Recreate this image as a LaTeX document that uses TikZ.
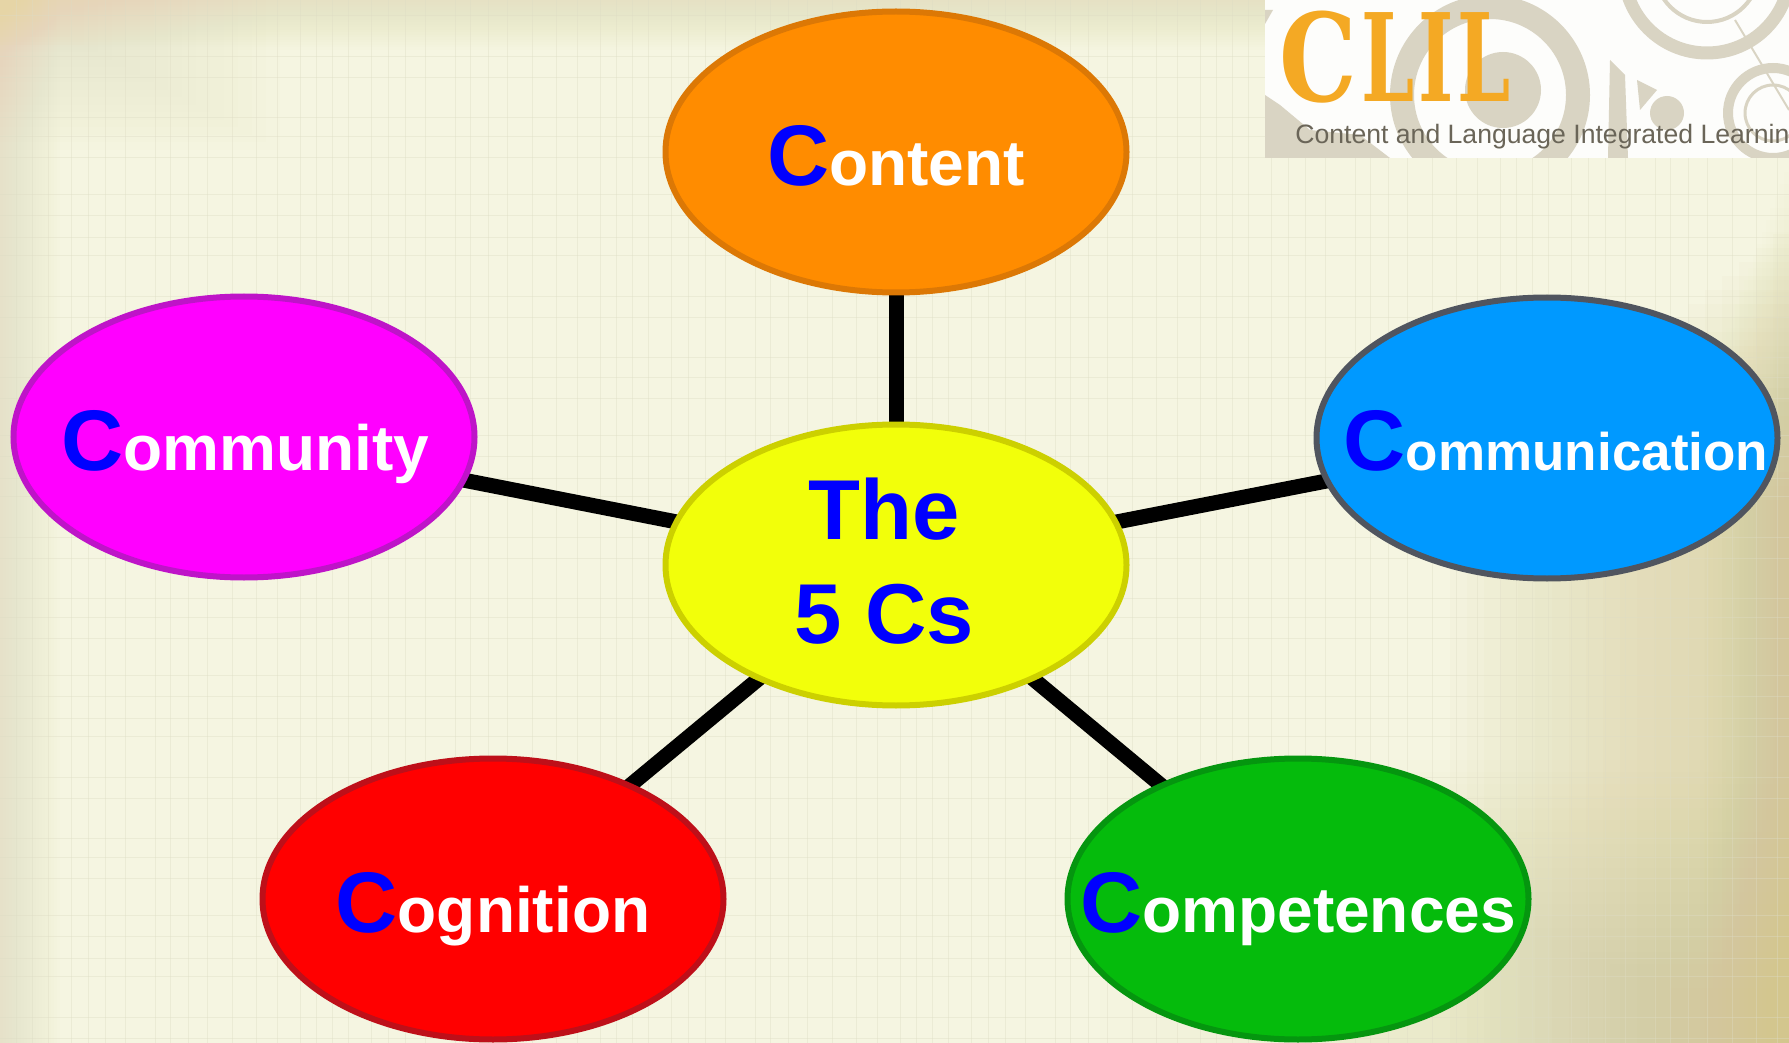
\documentclass[tikz,border=0pt]{standalone}
\usepackage{fontspec}
\setmainfont{Liberation Sans}
\newfontfamily\slabfont{DejaVu Serif}
\usetikzlibrary{shapes.geometric}
\pgfdeclarelayer{paper}
\pgfdeclarelayer{lines}
\pgfsetlayers{paper,lines,main}
\definecolor{paperbase}{HTML}{F5F5E1}
\definecolor{papertan}{HTML}{D3C68E}
\definecolor{paperwarm}{HTML}{E6D5A6}
\definecolor{gridc}{HTML}{DEDCC4}
\definecolor{logotan}{HTML}{D9D4C3}
\definecolor{logowhite}{HTML}{FDFDFB}
\definecolor{logoorange}{HTML}{F4A924}
\definecolor{logotext}{HTML}{6A6558}
\definecolor{fbig}{HTML}{0000FF}
\tikzset{
  x=0.5pt,y=-0.5pt,
  bubble/.style={ellipse,minimum width=230.5pt,minimum height=140.5pt,inner sep=0pt,line width=3pt},
  spoke/.style={line width=7.5pt,black,line cap=butt,shorten >=-6pt,shorten <=-6pt},
  cword/.style={anchor=base,inner sep=0pt,text=white,font=\bfseries\fontsize{32}{36}\selectfont},
  hubword/.style={anchor=base,inner sep=0pt,text=fbig,font=\bfseries\fontsize{42.5}{46}\selectfont},
  ring/.style={draw=logotan,fill=none},
}
\newcommand{\bigC}{\textcolor{fbig}{\fontsize{43}{43}\selectfont C}}
\begin{document}
\begin{tikzpicture}
\useasboundingbox (0,0) rectangle (1789,1043);
\begin{pgfonlayer}{paper}
  \fill[paperbase] (0,0) rectangle (1789,1043);
  \foreach \i in {0,...,19}{
    \fill[paperwarm,opacity=0.022] (0,0) rectangle (1789,{50-2.5*\i});
    \fill[paperwarm,opacity=0.018] (0,0) rectangle ({60-3*\i},1043);
    \fill[paperwarm,opacity=0.02] (0,0) rectangle ({280-14*\i},{150-7.5*\i});
    \fill[papertan,opacity=0.045] ({1450+17*\i},{500-14*\i}) rectangle (1789,1043);
    \fill[papertan,opacity=0.018] ({1100+30*\i},{760+12*\i}) rectangle (1789,1043);
    \fill[papertan,opacity=0.015] ({1700+4.4*\i},{400-12*\i}) rectangle (1789,1043);
  }
  \foreach \v in {16,32,48,71,88,105,125,155,170,188,207,232,256,277,300}{
    \foreach \k in {0,300,600,900,1200,1500}{
      \draw[gridc,line width=0.5pt,opacity=0.4] ({\v+\k},0) -- ({\v+\k},1043);
    }
  }
  \foreach \v in {16,57,78,118,137,158,195,216,238}{
    \foreach \k in {0,240,480,720,960}{
      \draw[gridc,line width=0.5pt,opacity=0.4] (0,{\v+\k}) -- (1789,{\v+\k});
    }
  }
\end{pgfonlayer}

% logo
\begin{scope}
  \clip (1265,0) rectangle (1789,158);
  \fill[logowhite] (1265,0) rectangle (1789,158);
  \fill[logotan] (1265,95) -- (1265,158) -- (1390,158) -- (1360,135) -- (1310,130) -- (1280,105) -- cycle;
  \fill[logotan] (1265,10) -- (1273,10) -- (1265,24) -- cycle;
  \draw[ring,line width=12pt] (1490,95) circle (88);
  \fill[logotan] (1503,90) circle (38);
  \draw[ring,line width=6.5pt] (1707,-30) circle (83);
  \draw[ring,line width=2pt] (1707,-30) circle (52);
  \draw[ring,line width=1pt] (1735,20) -- (1789,110);
  \draw[ring,line width=5pt] (1773,113) circle (45);
  \draw[ring,line width=1.5pt] (1773,113) circle (28);
  \fill[logotan] (1637,80) -- (1657,90) -- (1640,110) -- cycle;
  \fill[logotan] (1667,113) circle (17);
  \fill[logotan] (1610,60) -- (1625,75) -- (1628,158) -- (1608,158) -- cycle;
  \node[anchor=base west,inner sep=0pt,text=logoorange,font=\slabfont\bfseries\fontsize{61}{61}\selectfont] (logotitle) at (1279,102) {\scalebox{0.8}[1]{C}\kern2pt\scalebox{0.62}[1]{L}\kern2pt\scalebox{0.62}[1]{I}\kern2pt\scalebox{0.62}[1]{L}};
  \node[anchor=base west,inner sep=0pt,text=logotext,font=\fontsize{13.3}{15}\selectfont] (logosub) at (1295,144) {Content and Language Integrated Learning};
\end{scope}

% bubbles
\node[bubble,fill={rgb,255:red,242;green,255;blue,10},draw={rgb,255:red,204;green,208;blue,0}] (hub) at (896,565) {};
\node[bubble,fill={rgb,255:red,255;green,140;blue,0},draw={rgb,255:red,220;green,120;blue,5}] (content) at (896,152) {};
\node[bubble,fill={rgb,255:red,255;green,0;blue,255},draw={rgb,255:red,190;green,20;blue,200}] (community) at (244,437) {};
\node[bubble,fill={rgb,255:red,0;green,153;blue,255},draw={rgb,255:red,80;green,85;blue,95}] (communication) at (1547,438) {};
\node[bubble,fill={rgb,255:red,255;green,0;blue,0},draw={rgb,255:red,190;green,15;blue,25}] (cognition) at (493,899) {};
\node[bubble,fill={rgb,255:red,5;green,187;blue,12},draw={rgb,255:red,5;green,150;blue,15}] (competences) at (1298,899) {};

\begin{pgfonlayer}{lines}
  \draw[spoke] (hub) -- (content);
  \draw[spoke] (hub) -- (community);
  \draw[spoke] (hub) -- (communication);
  \draw[spoke] (hub) -- (cognition);
  \draw[spoke] (hub) -- (competences);
\end{pgfonlayer}

\node[cword] (tcontent) at (896,186) {\bigC ontent};
\node[cword] (tcommunity) at (245,470) {\bigC ommunity};
\node[cword,font=\bfseries\fontsize{26.5}{30}\selectfont] (tcommunication) at (1556,470) {\bigC ommunication};
\node[cword] (tcognition) at (493,932) {\bigC ognition};
\node[cword] (tcompetences) at (1298,932) {\bigC ompetences};
\node[hubword] (tthe) at (884,539) {The};
\node[hubword] (tfive) at (884,643) {5 Cs};
\end{tikzpicture}
\end{document}
